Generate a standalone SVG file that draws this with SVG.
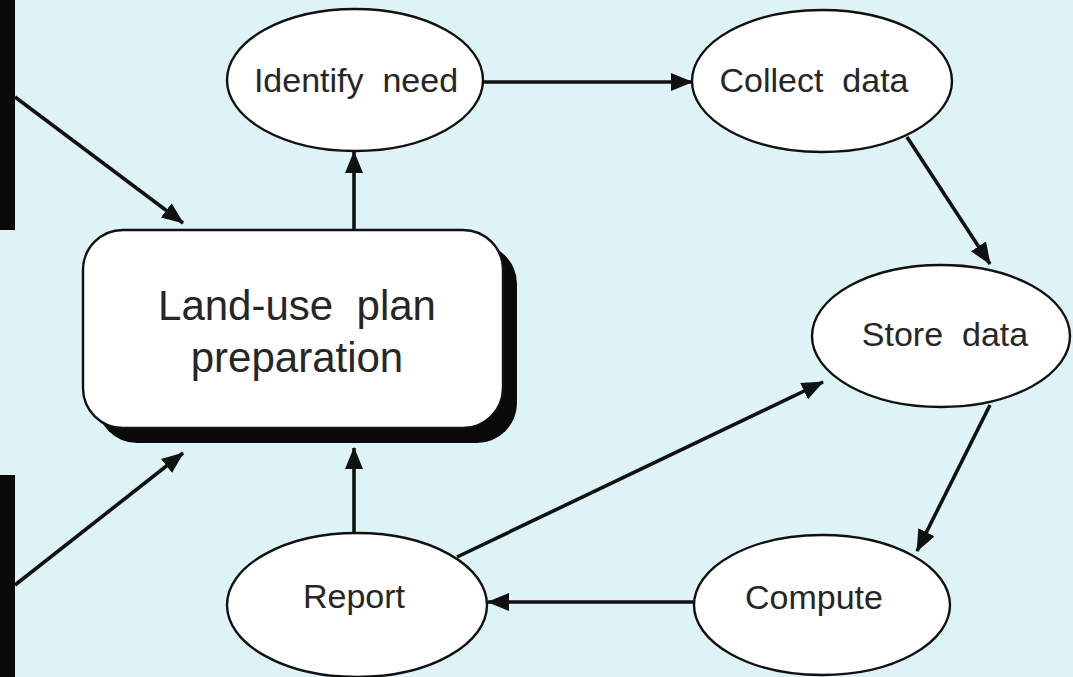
<svg xmlns="http://www.w3.org/2000/svg" width="1073" height="677" viewBox="0 0 1073 677">
<style>
.node{fill:#fefefe;stroke:#111;stroke-width:2.4}
.lbl{font-family:"Liberation Sans",Arial,sans-serif;font-size:34px;fill:#262626;text-anchor:middle;white-space:pre}
.big{font-size:42px}
.edge{stroke:#111;stroke-width:3.6;fill:none;marker-end:url(#ah)}
</style>
<defs>
<marker id="ah" markerUnits="userSpaceOnUse" markerWidth="24" markerHeight="20" refX="21" refY="9" orient="auto">
<path d="M0,0 L22,9 L0,18 z" fill="#111"/>
</marker>
</defs>
<rect x="0" y="0" width="1073" height="677" fill="#def3f5"/>
<rect x="0" y="0" width="15" height="230" fill="#0a0a0a"/>
<rect x="0" y="475" width="15" height="202" fill="#0a0a0a"/>
<g id="landuse">
<rect x="97" y="244" width="420" height="199" rx="40" fill="#0a0a0a"/>
<rect class="node" x="83" y="230" width="420" height="198" rx="40"/>
<text class="lbl big" x="297" y="320">Land-use  plan</text>
<text class="lbl big" x="297" y="372">preparation</text>
</g>
<g id="identify">
<ellipse class="node" cx="355" cy="80" rx="128" ry="71"/>
<text class="lbl" x="356" y="92">Identify  need</text>
</g>
<g id="collect">
<ellipse class="node" cx="822" cy="81" rx="130" ry="71"/>
<text class="lbl" x="814" y="92">Collect  data</text>
</g>
<g id="store">
<ellipse class="node" cx="941" cy="336" rx="129" ry="71"/>
<text class="lbl" x="945" y="346">Store  data</text>
</g>
<g id="compute">
<ellipse class="node" cx="822" cy="605" rx="128" ry="70"/>
<text class="lbl" x="814" y="609">Compute</text>
</g>
<g id="report">
<ellipse class="node" cx="357" cy="605" rx="130" ry="72"/>
<text class="lbl" x="354" y="608">Report</text>
</g>
<g id="connectors">
<line class="edge" x1="15" y1="97" x2="183" y2="223"/>
<line class="edge" x1="15" y1="585" x2="183" y2="453"/>
<line class="edge" x1="354" y1="230" x2="354" y2="152"/>
<line class="edge" x1="483" y1="82" x2="692" y2="82"/>
<line class="edge" x1="907" y1="137" x2="990" y2="264"/>
<line class="edge" x1="990" y1="405" x2="917" y2="551"/>
<line class="edge" x1="693" y1="602" x2="488" y2="602"/>
<line class="edge" x1="354" y1="533" x2="354" y2="448"/>
<line class="edge" x1="457" y1="557" x2="823" y2="382"/>
</g>
</svg>
